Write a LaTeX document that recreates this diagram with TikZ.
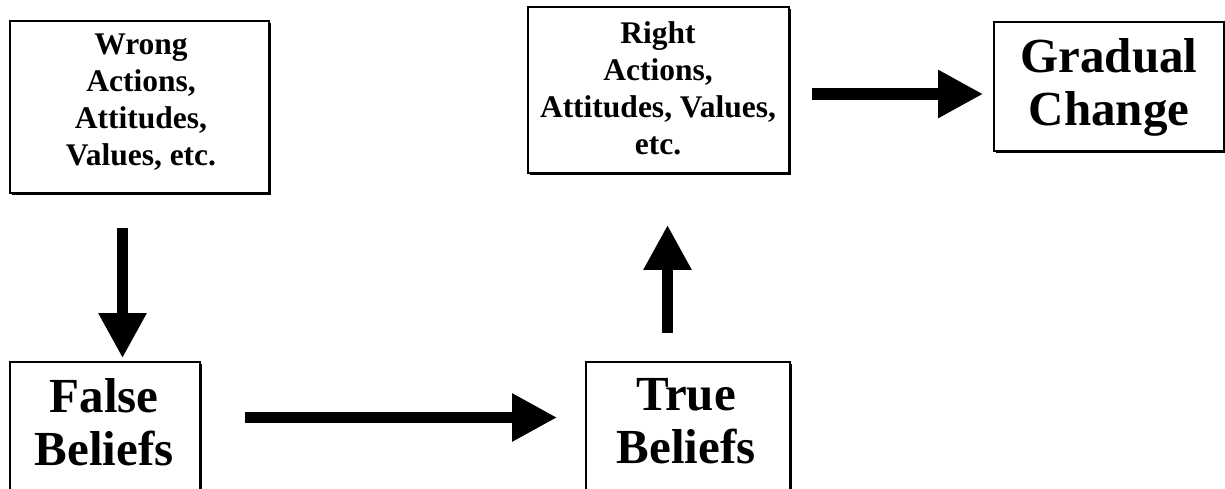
\documentclass[tikz,border=0pt]{standalone}
\usepackage{fontspec}
\setmainfont{Liberation Serif}
\usetikzlibrary{arrows.meta,shadows}
\begin{document}
\begin{tikzpicture}[x=1pt,y=-1pt,
  boxsty/.style={draw=black, line width=1.6pt, fill=white, rectangle, inner sep=0pt,
    drop shadow={shadow xshift=2pt, shadow yshift=-2pt, fill=black, opacity=1}},
  smalltxt/.style={font=\bfseries\fontsize{31.5}{37}\selectfont, align=center, inner sep=0pt, anchor=north},
  bigtxt/.style={font=\bfseries\fontsize{49}{53}\selectfont, align=center, inner sep=0pt, anchor=north},
  fatarrow/.style={line width=11.5pt, -{Triangle[width=45pt,length=45pt]}},
]
\useasboundingbox (0,0) rectangle (1225,489);
\clip (0,0) rectangle (1225,489);
\fill[white] (0,0) rectangle (1225,489);

% boxes
\node[boxsty, minimum width=259pt, minimum height=172pt] (wbox) at (139.5,107) {};
\node[boxsty, minimum width=261pt, minimum height=166pt] (rbox) at (658.5,90) {};
\node[boxsty, minimum width=230pt, minimum height=129pt] (gbox) at (1109,86.5) {};
\node[boxsty, minimum width=190pt, minimum height=158pt] (fbox) at (105,441) {};
\node[boxsty, minimum width=204pt, minimum height=158pt] (tbox) at (688,441) {};

% texts
\node[smalltxt] (wtxt) at (141,33.7) {Wrong\\Actions,\\Attitudes,\\Values, etc.};
\node[smalltxt] (rtxt) at (658,21.7) {Right\\Actions,\\Attitudes, Values,\\etc.};
\node[bigtxt] (gtxt) at (1109,38.8) {Gradual\\Change};
\node[bigtxt] (ftxt) at (104,377.8) {False\\Beliefs};
\node[bigtxt] (ttxt) at (686,377.8) {True\\Beliefs};

% arrow lines
\coordinate (dx) at (122.5,0);
\coordinate (ux) at (667.5,0);
\coordinate (ry) at (0,94);
\coordinate (by) at (0,417.5);

\draw[fatarrow, shorten <=34pt, shorten >=3pt] (wbox.south -| dx) -- (fbox.north -| dx);
\draw[fatarrow, shorten <=28pt, shorten >=51pt] (tbox.north -| ux) -- (rbox.south -| ux);
\draw[fatarrow, shorten <=22pt, shorten >=10pt] (rbox.east |- ry) -- (gbox.west |- ry);
\draw[fatarrow, shorten <=44pt, shorten >=28pt] (fbox.east |- by) -- (tbox.west |- by);
\end{tikzpicture}
\end{document}
